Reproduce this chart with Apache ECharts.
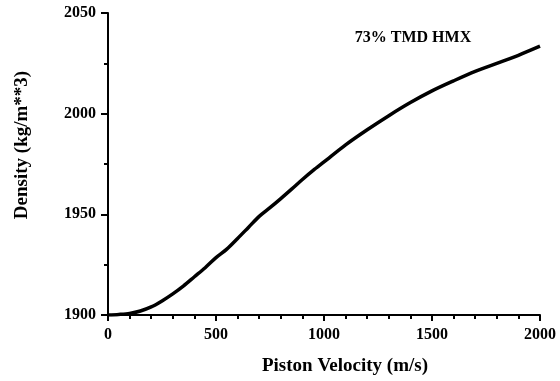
<!DOCTYPE html>
<html>
<head>
<meta charset="utf-8">
<script src="https://cdn.jsdelivr.net/npm/echarts@6/dist/echarts.min.js"></script>
<style>html,body{margin:0;padding:0;background:#fff}#c{width:560px;height:381px}</style>
</head>
<body>
<div id="c"></div>
<script>
var velocity = [0, 50, 100, 150, 200, 250, 300, 350, 400, 450, 500, 550, 600, 650, 700, 750, 800, 850, 900, 950, 1000, 1100, 1200, 1300, 1400, 1500, 1600, 1700, 1800, 1900, 2000];
var density = [1900, 1900.3, 1900.8, 1902, 1904, 1907, 1910.5, 1914.5, 1919, 1923.5, 1928.5, 1932.7, 1938, 1943.5, 1949, 1953.3, 1957.8, 1962.5, 1967.3, 1971.8, 1976, 1984.5, 1992, 1999, 2005.5, 2011.3, 2016.3, 2021, 2025, 2029, 2033.5];
var xTitle = 'Piston Velocity (m/s)';
var yTitle = 'Density (kg/m**3)';
var label = '73% TMD HMX';

var font = '"Liberation Serif", "DejaVu Serif", serif';
var pts = velocity.map(function (v, i) { return [v, density[i]]; });
var plain = function (v) { return String(v); };
var chart = echarts.init(document.getElementById('c'), null, { renderer: 'canvas' });
chart.setOption({
  animation: false,
  backgroundColor: '#fff',
  grid: { left: 108, right: 20, top: 13, bottom: 65, containLabel: false },
  xAxis: {
    type: 'value', min: 0, max: 2000, interval: 500,
    axisLine: { show: true, lineStyle: { color: '#000', width: 2 } },
    axisTick: { show: true, length: 6, lineStyle: { color: '#000', width: 2 } },
    minorTick: { show: true, splitNumber: 5, length: 4, lineStyle: { color: '#000', width: 2 } },
    splitLine: { show: false },
    axisLabel: { color: '#000', fontFamily: font, fontWeight: 'bold', fontSize: 16, margin: 12, formatter: plain },
    name: xTitle, nameLocation: 'middle', nameGap: 42,
    nameTextStyle: { color: '#000', fontFamily: font, fontWeight: 'bold', fontSize: 19, padding: [0, 0, 0, 42] }
  },
  yAxis: {
    type: 'value', min: 1900, max: 2050, interval: 50,
    axisLine: { show: true, lineStyle: { color: '#000', width: 2 } },
    axisTick: { show: true, length: 7, lineStyle: { color: '#000', width: 2 } },
    minorTick: { show: true, splitNumber: 2, length: 4, lineStyle: { color: '#000', width: 2 } },
    splitLine: { show: false },
    axisLabel: { color: '#000', fontFamily: font, fontWeight: 'bold', fontSize: 16, margin: 12, formatter: plain }
  },
  graphic: [
    { type: 'text', x: 22, y: 145, rotation: Math.PI / 2,
      style: { text: yTitle, fill: '#000', font: 'bold 19px ' + font, align: 'center', verticalAlign: 'middle' } },
    { type: 'text', x: 413, y: 38,
      style: { text: label, fill: '#000', font: 'bold 16px ' + font, align: 'center', verticalAlign: 'middle' } }
  ],
  series: [{
    type: 'line', data: pts, smooth: 0.3, symbol: 'none',
    lineStyle: { color: '#000', width: 3.5 }
  }]
});
</script>
</body>
</html>
